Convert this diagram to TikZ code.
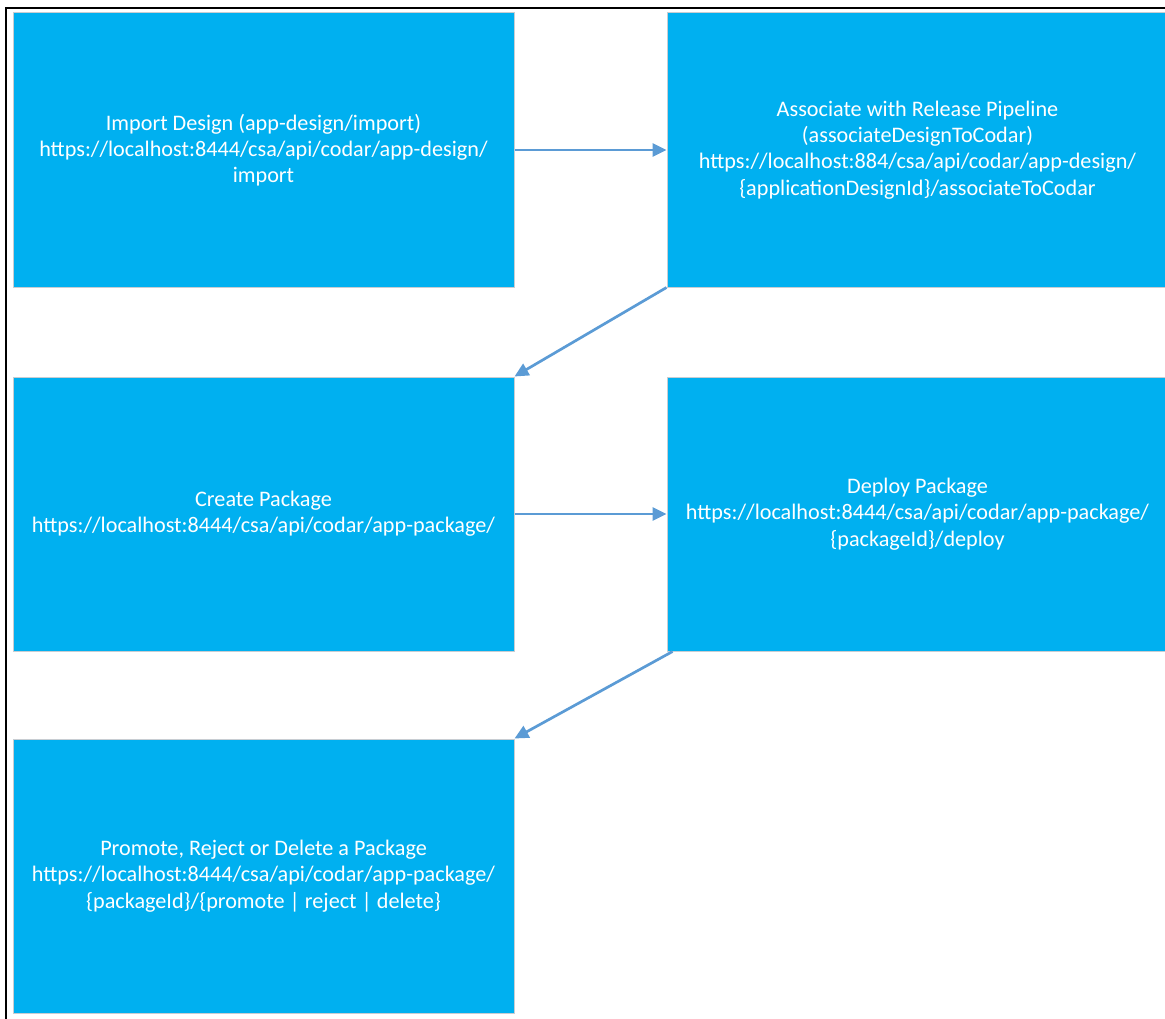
\documentclass[tikz,border=0pt]{standalone}
\usepackage{fontspec}
\setmainfont{Carlito}
\usepackage{tikz}
\usetikzlibrary{arrows.meta}
\definecolor{boxblue}{HTML}{00B0F0}
\definecolor{arrowblue}{HTML}{5B9BD5}
\definecolor{boxedge}{HTML}{C8CDD2}
\tikzset{
  etape/.style={rectangle,fill=boxblue,draw=boxedge,line width=1pt,
    minimum width=501pt,minimum height=274pt,align=center,text=white,
    font=\fontsize{22.2}{26.3}\selectfont,inner sep=0pt},
  fleche/.style={arrowblue,line width=2.7pt,-{Triangle[length=14pt,width=13pt]}}
}
\begin{document}
\begin{tikzpicture}[x=1pt,y=-1pt]
\useasboundingbox (0,0) rectangle (1165,1019);
%					Cadre :
\draw[black,line width=1.6pt] (6,1019) -- (6,8) -- (1165,8);
%					Les boîtes :
\node[etape] (import) at (263.5,150) {Import Design (app-design/import)\\https://localhost:8444/csa/api/codar/app-design/\\import};
\node[etape] (associate) at (917.5,150) {Associate with Release Pipeline\\(associateDesignToCodar)\\https://localhost:884/csa/api/codar/app-design/\\\{applicationDesignId\}/associateToCodar};
\node[etape] (create) at (263.5,514) {Create Package\\https://localhost:8444/csa/api/codar/app-package/};
\node[etape] (deploy) at (917.5,514) {Deploy Package\\https://localhost:8444/csa/api/codar/app-package/\\\{packageId\}/deploy};
\node[etape] (promote) at (263.5,876) {Promote, Reject or Delete a Package\\https://localhost:8444/csa/api/codar/app-package/\\\{packageId\}/\{promote | reject | delete\}};
%					Les flèches :
\draw[fleche] (import.east) -- (associate.west);
\draw[fleche] (associate.south west) -- (create.north east);
\draw[fleche] (create.east) -- (deploy.west);
\draw[fleche] ([xshift=6pt]deploy.south west) -- (promote.north east);
\end{tikzpicture}
\end{document}
